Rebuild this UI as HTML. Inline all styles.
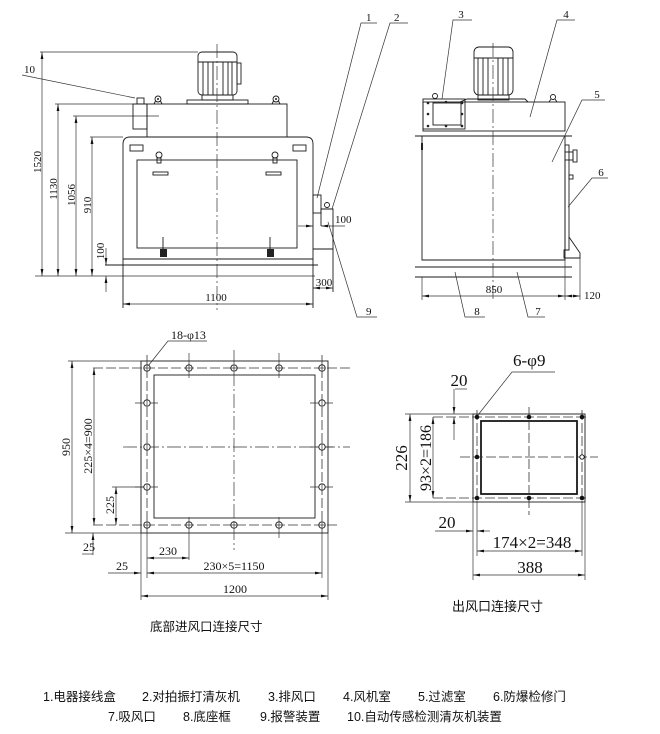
<!DOCTYPE html>
<html><head><meta charset="utf-8">
<style>
html,body{margin:0;padding:0;background:#fff;}
svg{display:block}
.s{fill:none;stroke:#1a1a1a;stroke-width:0.9}
.t{fill:none;stroke:#333;stroke-width:0.7}
.c{fill:none;stroke:#333;stroke-width:0.7;stroke-dasharray:14 3 2 3}
.d{fill:none;stroke:#333;stroke-width:0.8;stroke-dasharray:10 3}
.n{font-family:"Liberation Serif",serif;font-size:11px;fill:#111}
.m{font-family:"Liberation Serif",serif;font-size:12px;fill:#111}
.b{font-family:"Liberation Serif",serif;font-size:17px;fill:#111}
.z{font-family:"Liberation Sans","Noto Sans CJK SC",sans-serif;font-size:12.5px;fill:#111}
.cap{font-family:"Liberation Sans","Noto Sans CJK SC",sans-serif;font-size:12.5px;fill:#111}
</style></head><body>
<svg width="660" height="734" viewBox="0 0 660 734" xmlns="http://www.w3.org/2000/svg">
<defs>
<marker id="a" viewBox="0 0 10 4" refX="10" refY="2" markerWidth="7" markerHeight="2.8" markerUnits="userSpaceOnUse" orient="auto-start-reverse"><path d="M0,0 L10,2 L0,4 z" fill="#111"/></marker>
</defs>

<!-- ================= TOP LEFT VIEW ================= -->
<g class="t">
<line x1="40" y1="52" x2="198" y2="52"/>
<line x1="42" y1="52" x2="42" y2="276" marker-start="url(#a)" marker-end="url(#a)"/>
<line x1="55" y1="104" x2="147" y2="104"/>
<line x1="58" y1="104" x2="58" y2="276" marker-start="url(#a)" marker-end="url(#a)"/>
<line x1="73" y1="116" x2="159" y2="116"/>
<line x1="76" y1="116" x2="76" y2="276" marker-start="url(#a)" marker-end="url(#a)"/>
<line x1="90" y1="137" x2="123" y2="137"/>
<line x1="92" y1="137" x2="92" y2="276" marker-start="url(#a)" marker-end="url(#a)"/>
<line x1="106" y1="248" x2="106" y2="265" marker-end="url(#a)"/>
<line x1="106" y1="292" x2="106" y2="276" marker-end="url(#a)"/>
<line x1="35" y1="276" x2="315" y2="276"/>
<line x1="123" y1="304" x2="313" y2="304" marker-start="url(#a)" marker-end="url(#a)"/>
<line x1="313" y1="288" x2="333" y2="288" marker-start="url(#a)" marker-end="url(#a)"/>
<line x1="298" y1="226" x2="313" y2="226" marker-end="url(#a)"/>
<line x1="345" y1="226" x2="321" y2="226" marker-end="url(#a)"/>
<!-- leaders -->
<polyline points="22,75 135,98"/>
<polyline points="377,23 361,23 317,198"/>
<polyline points="408,23 390,23 332,209"/>
<polyline points="377,317 357,317 328,222"/>
</g>
<text class="n" transform="translate(41,162) rotate(-90)" text-anchor="middle">1520</text>
<text class="n" transform="translate(57,189) rotate(-90)" text-anchor="middle">1130</text>
<text class="n" transform="translate(75,195) rotate(-90)" text-anchor="middle">1056</text>
<text class="n" transform="translate(91,205) rotate(-90)" text-anchor="middle">910</text>
<text class="n" transform="translate(104,251) rotate(-90)" text-anchor="middle">100</text>
<text class="n" x="216" y="301" text-anchor="middle">1100</text>
<text class="n" x="324" y="286" text-anchor="middle">300</text>
<text class="n" x="335" y="223">100</text>
<text class="n" x="24" y="73">10</text>
<text class="n" x="366" y="21">1</text>
<text class="n" x="394" y="21">2</text>
<text class="n" x="366" y="315">9</text>

<g class="s">
<!-- body -->
<path d="M123,308 L123,144 Q123,137 130,137 L306,137 Q313,137 313,144 L313,308"/>
<line x1="123" y1="259" x2="313" y2="259"/>
<line x1="105" y1="265" x2="318" y2="265"/>
<!-- top fan box -->
<rect x="147" y="104" width="140" height="33"/>
<!-- part 10 -->
<rect x="133" y="104" width="14" height="25"/>
<rect x="137" y="98" width="7" height="6"/>
<!-- motor -->
<rect x="198" y="52" width="39" height="43" rx="4"/>
<line x1="198" y1="62" x2="237" y2="62"/>
<line x1="203" y1="62" x2="203" y2="95"/><line x1="208" y1="62" x2="208" y2="95"/>
<line x1="213" y1="62" x2="213" y2="95"/><line x1="223" y1="62" x2="223" y2="95"/>
<line x1="228" y1="62" x2="228" y2="95"/><line x1="232" y1="62" x2="232" y2="95"/>
<rect x="237" y="63" width="4" height="21"/>
<rect x="202" y="95" width="31" height="5"/>
<rect x="187" y="100" width="61" height="4"/>
<!-- lifting eyes -->
<circle cx="158" cy="99" r="3"/><path d="M154,104 L155.5,101 M162,104 L160.5,101"/>
<circle cx="276" cy="99" r="3"/><path d="M272,104 L273.5,101 M280,104 L278.5,101"/>
<!-- small rects -->
<rect x="130" y="145" width="13" height="6"/>
<rect x="293" y="145" width="13" height="6"/>
<!-- door -->
<rect x="137" y="160" width="160" height="88"/>
<circle cx="159" cy="155" r="3"/><rect x="157" y="158" width="4" height="5"/>
<circle cx="275" cy="155" r="3"/><rect x="273" y="158" width="4" height="5"/>
<rect x="153" y="172" width="15" height="3"/>
<rect x="266" y="172" width="15" height="3"/>
<line x1="163" y1="237" x2="163" y2="250"/>
<line x1="270" y1="237" x2="270" y2="250"/>
<!-- right side equipment -->
<rect x="313" y="195" width="8" height="18"/>
<path d="M321,213 L321,209 L333,209 L333,292"/>
<line x1="321" y1="213" x2="321" y2="226"/>
<circle cx="327" cy="205" r="2.5"/>
<line x1="313" y1="249" x2="333" y2="249"/>
</g>
<rect x="160" y="249" width="7" height="8" fill="#222"/>
<rect x="267" y="249" width="7" height="8" fill="#222"/>
<circle cx="158" cy="99" r="1" fill="#222"/><circle cx="276" cy="99" r="1" fill="#222"/>
<line class="c" x1="217" y1="44" x2="217" y2="310"/>

<!-- ================= TOP RIGHT VIEW ================= -->
<g class="s">
<rect x="422" y="136" width="143" height="124"/>
<rect x="423" y="102" width="142" height="29"/>
<line x1="415" y1="136" x2="572" y2="136"/>
<line x1="422" y1="260" x2="565" y2="260"/>
<line x1="415" y1="267" x2="572" y2="267"/>
<line x1="415" y1="277" x2="572" y2="277"/>
<!-- motor -->
<rect x="474" y="47" width="39" height="48" rx="5"/>
<line x1="474" y1="58" x2="513" y2="58"/>
<line x1="478" y1="58" x2="478" y2="95"/><line x1="483" y1="58" x2="483" y2="95"/>
<line x1="488" y1="58" x2="488" y2="95"/><line x1="498" y1="58" x2="498" y2="95"/>
<line x1="503" y1="58" x2="503" y2="95"/><line x1="508" y1="58" x2="508" y2="95"/>
<rect x="478" y="95" width="31" height="5"/>
<path d="M460,102 L467,99 L525,99 L528,102"/>
<!-- exhaust box -->
<rect x="423" y="99" width="42" height="30"/>
<rect x="433" y="103" width="28" height="22"/>
<circle cx="435" cy="96" r="2.5"/>
<circle cx="553" cy="97" r="2.5"/><path d="M549,102 L551,99 M557,102 L555,99"/>
<!-- side door -->
<rect x="565" y="145" width="4" height="105"/>
<rect x="565" y="152" width="8" height="8"/>
<rect x="573" y="150" width="4" height="12"/>
<rect x="569" y="175" width="4" height="4"/>
<path d="M569,237 L580,253 L580,258 L564,258 L564,250 L569,250"/>
</g>
<g fill="#222">
<circle cx="428" cy="103" r="1.3"/><circle cx="446" cy="102" r="1.3"/><circle cx="462" cy="103" r="1.3"/>
<circle cx="428" cy="114" r="1.3"/><circle cx="462" cy="114" r="1.3"/>
<circle cx="428" cy="126" r="1.3"/><circle cx="446" cy="126" r="1.3"/><circle cx="462" cy="126" r="1.3"/>
<rect x="421" y="143" width="2" height="7"/>
</g>
<line class="c" x1="493" y1="43" x2="493" y2="300"/>
<g class="t">
<line x1="422" y1="277" x2="422" y2="300"/>
<line x1="565" y1="260" x2="565" y2="300"/>
<line x1="580" y1="253" x2="580" y2="300"/>
<line x1="422" y1="296" x2="565" y2="296" marker-start="url(#a)" marker-end="url(#a)"/>
<line x1="565" y1="296" x2="580" y2="296" marker-start="url(#a)" marker-end="url(#a)"/>
<polyline points="472,20 453,20 442,99"/>
<polyline points="575,20 557,20 530,117"/>
<polyline points="605,100 582,100 552,162"/>
<polyline points="608,178 592,178 568,207"/>
<polyline points="485,317 465,317 455,272"/>
<polyline points="545,317 528,317 517,272"/>
</g>
<text class="n" x="494" y="293" text-anchor="middle">850</text>
<text class="n" x="584" y="299">120</text>
<text class="n" x="461" y="18" text-anchor="middle">3</text>
<text class="n" x="566" y="18" text-anchor="middle">4</text>
<text class="n" x="597" y="98" text-anchor="middle">5</text>
<text class="n" x="601" y="176" text-anchor="middle">6</text>
<text class="n" x="477" y="315" text-anchor="middle">8</text>
<text class="n" x="538" y="315" text-anchor="middle">7</text>

<!-- ================= BOTTOM LEFT FLANGE ================= -->
<g class="s">
<rect x="141" y="361" width="187" height="172"/>
<rect x="154" y="375" width="161" height="143"/>
</g>
<g class="d">
<line x1="93" y1="368" x2="350" y2="368"/>
<line x1="93" y1="525" x2="340" y2="525"/>
<line x1="147" y1="355" x2="147" y2="533"/>
<line x1="322" y1="355" x2="322" y2="533"/>
</g>
<line class="c" x1="123" y1="447" x2="350" y2="447"/>
<line class="c" x1="234" y1="350" x2="234" y2="550"/>
<g class="t">
<line x1="147" y1="533" x2="147" y2="578"/>
<line x1="322" y1="533" x2="322" y2="578"/>
<line x1="141" y1="533" x2="141" y2="600"/>
<line x1="328" y1="533" x2="328" y2="600"/>
<line x1="189" y1="353" x2="189" y2="378"/>
<line x1="279" y1="353" x2="279" y2="378"/>
<line x1="189" y1="517" x2="189" y2="560"/>
<line x1="279" y1="517" x2="279" y2="538"/>
<line x1="135" y1="403" x2="158" y2="403"/><line x1="135" y1="487" x2="158" y2="487"/>
<line x1="310" y1="403" x2="333" y2="403"/><line x1="310" y1="447" x2="333" y2="447"/><line x1="310" y1="487" x2="333" y2="487"/>
<line x1="68" y1="361" x2="141" y2="361"/>
<line x1="65" y1="533" x2="141" y2="533"/>
<line x1="72" y1="361" x2="72" y2="533" marker-start="url(#a)" marker-end="url(#a)"/>
<line x1="94" y1="368" x2="94" y2="525" marker-start="url(#a)" marker-end="url(#a)"/>
<line x1="112" y1="487" x2="147" y2="487"/>
<line x1="116" y1="487" x2="116" y2="525" marker-start="url(#a)" marker-end="url(#a)"/>
<line x1="93" y1="555" x2="93" y2="533" marker-end="url(#a)"/>
<line x1="82" y1="554" x2="93" y2="554"/>
<line x1="147" y1="558" x2="189" y2="558" marker-start="url(#a)" marker-end="url(#a)"/>
<line x1="108" y1="573" x2="141" y2="573" marker-end="url(#a)"/>
<line x1="147" y1="573" x2="322" y2="573" marker-start="url(#a)" marker-end="url(#a)"/>
<line x1="141" y1="596" x2="328" y2="596" marker-start="url(#a)" marker-end="url(#a)"/>
<polyline points="207,341 168,341 148,366"/>
</g>
<g class="s" fill="#fff" style="fill:#fff">
<circle cx="147" cy="368" r="3.2"/><circle cx="189" cy="368" r="3.2"/><circle cx="234" cy="368" r="3.2"/><circle cx="279" cy="368" r="3.2"/><circle cx="322" cy="368" r="3.2"/>
<circle cx="147" cy="525" r="3.2"/><circle cx="189" cy="525" r="3.2"/><circle cx="234" cy="525" r="3.2"/><circle cx="279" cy="525" r="3.2"/><circle cx="322" cy="525" r="3.2"/>
<circle cx="147" cy="403" r="3.2"/><circle cx="147" cy="447" r="3.2"/><circle cx="147" cy="487" r="3.2"/>
<circle cx="322" cy="403" r="3.2"/><circle cx="322" cy="447" r="3.2"/><circle cx="322" cy="487" r="3.2"/>
</g>
<g class="t">
<line x1="144" y1="368" x2="150" y2="368"/><line x1="186" y1="368" x2="192" y2="368"/><line x1="231" y1="368" x2="237" y2="368"/><line x1="276" y1="368" x2="282" y2="368"/><line x1="319" y1="368" x2="325" y2="368"/>
<line x1="144" y1="525" x2="150" y2="525"/><line x1="186" y1="525" x2="192" y2="525"/><line x1="231" y1="525" x2="237" y2="525"/><line x1="276" y1="525" x2="282" y2="525"/><line x1="319" y1="525" x2="325" y2="525"/>
<line x1="147" y1="365" x2="147" y2="371"/><line x1="189" y1="365" x2="189" y2="371"/><line x1="234" y1="365" x2="234" y2="371"/><line x1="279" y1="365" x2="279" y2="371"/><line x1="322" y1="365" x2="322" y2="371"/>
<line x1="147" y1="522" x2="147" y2="528"/><line x1="189" y1="522" x2="189" y2="528"/><line x1="234" y1="522" x2="234" y2="528"/><line x1="279" y1="522" x2="279" y2="528"/><line x1="322" y1="522" x2="322" y2="528"/>
<line x1="147" y1="400" x2="147" y2="406"/><line x1="147" y1="444" x2="147" y2="450"/><line x1="147" y1="484" x2="147" y2="490"/>
<line x1="322" y1="400" x2="322" y2="406"/><line x1="322" y1="444" x2="322" y2="450"/><line x1="322" y1="484" x2="322" y2="490"/>
</g>
<text class="m" x="171" y="339">18-φ13</text>
<text class="m" transform="translate(70,447) rotate(-90)" text-anchor="middle">950</text>
<text class="m" transform="translate(92,446) rotate(-90)" text-anchor="middle">225×4=900</text>
<text class="m" transform="translate(114,505) rotate(-90)" text-anchor="middle">225</text>
<text class="m" x="83" y="551">25</text>
<text class="m" x="168" y="555" text-anchor="middle">230</text>
<text class="m" x="122" y="570" text-anchor="middle">25</text>
<text class="m" x="234" y="570" text-anchor="middle">230×5=1150</text>
<text class="m" x="235" y="593" text-anchor="middle">1200</text>
<text class="cap" x="150" y="631">底部进风口连接尺寸</text>

<!-- ================= BOTTOM RIGHT FLANGE ================= -->
<g class="s">
<rect x="473" y="414" width="112" height="88"/>
<rect x="481" y="421" width="96" height="73" style="stroke-width:1.8"/>
</g>
<g class="d">
<line x1="433" y1="417" x2="588" y2="417"/>
<line x1="433" y1="498" x2="588" y2="498"/>
<line x1="477" y1="410" x2="477" y2="502"/>
<line x1="582" y1="410" x2="582" y2="502"/>
<line x1="460" y1="457" x2="598" y2="457"/>
<line x1="529" y1="407" x2="529" y2="515"/>
</g>
<g fill="#111">
<circle cx="477" cy="417" r="2.3"/><circle cx="529" cy="417" r="2.3"/><circle cx="582" cy="417" r="2.3"/>
<circle cx="477" cy="498" r="2.3"/><circle cx="529" cy="498" r="2.3"/><circle cx="582" cy="498" r="2.3"/>
<circle cx="477" cy="457" r="2.3"/>
</g>
<circle cx="582" cy="457" r="2.2" fill="#fff" stroke="#111" stroke-width="0.9"/>
<g class="t">
<line x1="477" y1="502" x2="477" y2="556"/>
<line x1="582" y1="502" x2="582" y2="556"/>
<line x1="473" y1="502" x2="473" y2="580"/>
<line x1="585" y1="502" x2="585" y2="580"/>
<line x1="405" y1="414" x2="473" y2="414"/>
<line x1="405" y1="502" x2="473" y2="502"/>
<line x1="410" y1="414" x2="410" y2="502" marker-start="url(#a)" marker-end="url(#a)"/>
<line x1="433" y1="417" x2="433" y2="498" marker-start="url(#a)" marker-end="url(#a)"/>
<line x1="454" y1="389" x2="454" y2="414" marker-end="url(#a)"/>
<line x1="454" y1="440" x2="454" y2="417" marker-end="url(#a)"/>
<line x1="455" y1="389" x2="467" y2="389"/>
<line x1="435" y1="531" x2="473" y2="531" marker-end="url(#a)"/>
<line x1="490" y1="531" x2="477" y2="531" marker-end="url(#a)"/>
<line x1="477" y1="551" x2="582" y2="551" marker-start="url(#a)" marker-end="url(#a)"/>
<line x1="473" y1="575" x2="585" y2="575" marker-start="url(#a)" marker-end="url(#a)"/>
<polyline points="555,372 512,372 478,415"/>
</g>
<text class="b" x="513" y="366">6-φ9</text>
<text class="b" x="459" y="386" text-anchor="middle">20</text>
<text class="b" x="447" y="528" text-anchor="middle">20</text>
<text class="b" transform="translate(407,458) rotate(-90)" text-anchor="middle">226</text>
<text class="b" transform="translate(431,458) rotate(-90)" text-anchor="middle" style="font-size:16px">93×2=186</text>
<text class="b" x="532" y="548" text-anchor="middle">174×2=348</text>
<text class="b" x="530" y="573" text-anchor="middle">388</text>
<text class="cap" x="452" y="611" style="font-size:13px">出风口连接尺寸</text>

<!-- ================= LEGEND ================= -->
<text class="z" x="43" y="701">1.电器接线盒</text>
<text class="z" x="142" y="701">2.对拍振打清灰机</text>
<text class="z" x="268" y="701">3.排风口</text>
<text class="z" x="343" y="701">4.风机室</text>
<text class="z" x="418" y="701">5.过滤室</text>
<text class="z" x="493" y="701">6.防爆检修门</text>
<text class="z" x="108" y="721">7.吸风口</text>
<text class="z" x="183" y="721">8.底座框</text>
<text class="z" x="260" y="721">9.报警装置</text>
<text class="z" x="347" y="721">10.自动传感检测清灰机装置</text>
</svg>
</body></html>
